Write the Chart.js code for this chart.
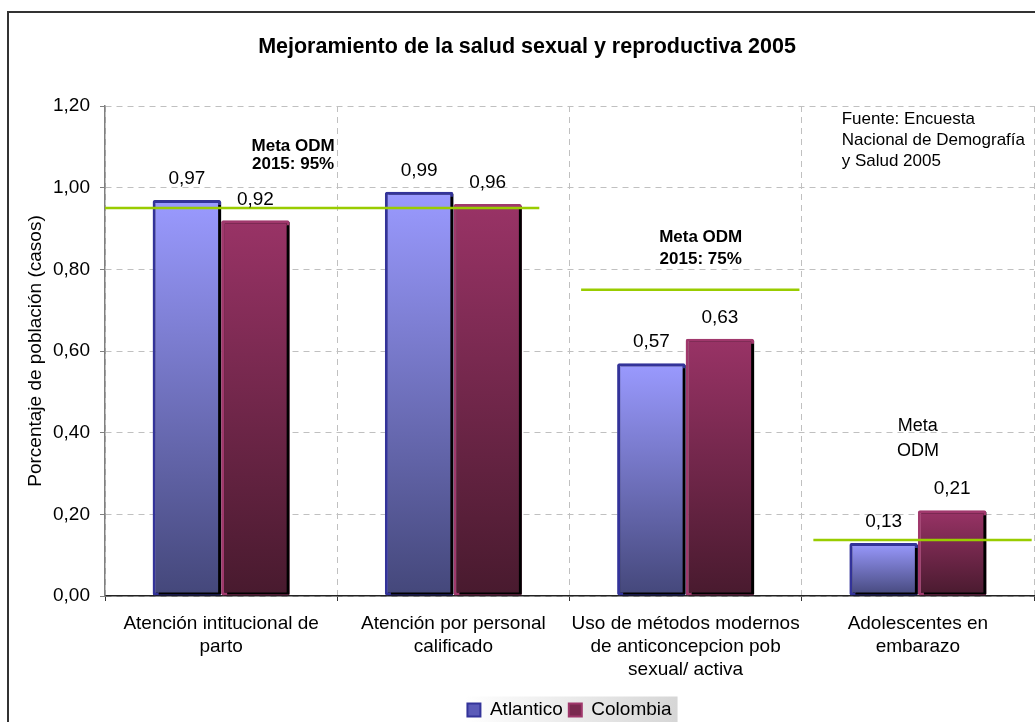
<!DOCTYPE html>
<html>
<head>
<meta charset="utf-8">
<script src="https://cdn.jsdelivr.net/npm/chart.js@4/dist/chart.umd.min.js"></script>
<style>
html,body{margin:0;padding:0;background:#fff;}
#wrap{width:1035px;height:722px;position:relative;}
</style>
</head>
<body>
<div id="wrap"><canvas id="c" width="1035" height="722"></canvas></div>
<script>
// ---- data ----
const categories = [
  ['Atención intitucional de', 'parto'],
  ['Atención por personal', 'calificado'],
  ['Uso de métodos modernos', 'de anticoncepcion pob', 'sexual/ activa'],
  ['Adolescentes en', 'embarazo']
];
const seriesNames = ['Atlantico', 'Colombia'];
const atlantico = [0.97, 0.99, 0.57, 0.13];
const colombia = [0.92, 0.96, 0.63, 0.21];
// Meta ODM target lines: value and span in category units
const metaValues = [0.95, 0.75, 0.137];
const metaSpans = [[-0.5, 1.37], [1.55, 2.49], [2.55, 3.49]];
const yTicks = [0, 0.2, 0.4, 0.6, 0.8, 1.0, 1.2];
const titleText = 'Mejoramiento de la salud sexual y reproductiva 2005';
const yTitle = 'Porcentaje de población (casos)';
const notes = [
  {lines: ['Meta ODM', '2015: 95%'], bold: true},
  {lines: ['Meta ODM', '2015: 75%'], bold: true},
  {lines: ['Meta', 'ODM'], bold: false},
  {lines: ['Fuente: Encuesta', 'Nacional de Demografía', 'y Salud 2005'], bold: false}
];

// ---- layout of notes (positions in axis units) ----
const notePos = [
  {x: 0.31, ys: [1.102, 1.056], align: 'center', size: 17},
  {x: 2.065, ys: [0.878, 0.824], align: 'center', size: 17},
  {x: 3.0, ys: [0.416, 0.355], align: 'center', size: 18},
  {x: 2.672, ys: [1.168, 1.116, 1.065], align: 'left', size: 17}
];

const FONT = 'Arial, "Liberation Sans", sans-serif';
const fmt = v => v.toFixed(2).replace('.', ',');

function barGrad(c, top, bottom) {
  const chart = c.chart;
  if (!chart.chartArea || c.type !== 'data') return top;
  const y = chart.scales.y;
  const y0 = y.getPixelForValue(c.raw), y1 = y.getPixelForValue(0);
  const g = chart.ctx.createLinearGradient(0, y0, 0, y1);
  g.addColorStop(0, top);
  g.addColorStop(1, bottom);
  return g;
}

const framePlugin = {
  id: 'frame',
  beforeDraw(chart) {
    const ctx = chart.ctx;
    ctx.save();
    ctx.fillStyle = '#fff';
    ctx.fillRect(0, 0, chart.width, chart.height);
    ctx.strokeStyle = '#333';
    ctx.lineWidth = 2;
    ctx.strokeRect(8, 12, chart.width + 20, chart.height + 20);
    const L = chart.legend;
    if (L && L.legendHitBoxes && L.legendHitBoxes.length) {
      const hb = L.legendHitBoxes;
      const x0 = hb[0].left - 3;
      const last = hb[hb.length - 1];
      const x1 = last.left + last.width + 6;
      const g = ctx.createLinearGradient(x0, 0, x1, 0);
      g.addColorStop(0, '#ffffff');
      g.addColorStop(1, '#d6d6d6');
      ctx.fillStyle = g;
      ctx.fillRect(x0, hb[0].top - 4, x1 - x0, chart.height);
    }
    ctx.restore();
  },
  afterLayout(chart) {
    const L = chart.legend, a = chart.chartArea;
    if (!L) return;
    const shift = (a.left + a.right) / 2 - (L.left + L.right) / 2;
    L.left += shift; L.right += shift;
  },
  beforeDatasetDraw(chart) {
    const ctx = chart.ctx;
    ctx.save();
    ctx.shadowColor = 'rgba(0,0,0,1)';
    ctx.shadowOffsetX = 3;
    ctx.shadowOffsetY = 2;
    ctx.shadowBlur = 0;
  },
  afterDatasetDraw(chart) {
    chart.ctx.restore();
  },
  afterDatasetsDraw(chart) {
    const ctx = chart.ctx;
    const xs = chart.scales.x, ys = chart.scales.y;
    ctx.save();
    // meta ODM lines
    ctx.strokeStyle = '#99cc00';
    ctx.lineWidth = 2.5;
    metaValues.forEach((v, i) => {
      const py = ys.getPixelForValue(v);
      ctx.beginPath();
      ctx.moveTo(xs.getPixelForValue(metaSpans[i][0]), py);
      ctx.lineTo(xs.getPixelForValue(metaSpans[i][1]), py);
      ctx.stroke();
    });
    // value labels
    ctx.fillStyle = '#000';
    ctx.textAlign = 'center';
    ctx.textBaseline = 'middle';
    ctx.font = '19px ' + FONT;
    [0, 1].forEach(di => {
      const meta = chart.getDatasetMeta(di);
      meta.data.forEach((el, i) => {
        const v = chart.data.datasets[di].data[i];
        ctx.fillText(fmt(v), el.x, el.y - 21);
      });
    });
    // notes
    notes.forEach((n, i) => {
      const p = notePos[i];
      ctx.font = (n.bold ? 'bold ' : '') + p.size + 'px ' + FONT;
      ctx.textAlign = p.align;
      const px = xs.getPixelForValue(p.x);
      n.lines.forEach((t, j) => ctx.fillText(t, px, ys.getPixelForValue(p.ys[j])));
    });
    ctx.restore();
  }
};

new Chart(document.getElementById('c'), {
  type: 'bar',
  data: {
    labels: categories,
    datasets: [
      {
        label: seriesNames[0],
        data: atlantico,
        backgroundColor: c => barGrad(c, '#9a9aff', '#44477a'),
        borderColor: '#333399',
        borderWidth: 3,
        borderSkipped: false,
        borderRadius: 2
      },
      {
        label: seriesNames[1],
        data: colombia,
        backgroundColor: c => barGrad(c, '#993366', '#481a2e'),
        borderColor: '#a0386c',
        borderWidth: 3,
        borderSkipped: false,
        borderRadius: 2
      }
    ]
  },
  options: {
    responsive: false,
    animation: false,
    devicePixelRatio: 1,
    datasets: {bar: {categoryPercentage: 0.59, barPercentage: 1.0}},
    layout: {padding: {left: 20, right: 1, top: 0, bottom: -7.5}},
    scales: {
      x: {
        type: 'category',
        offset: true,
        grid: {display: true, offset: true, color: '#c0c0c0', tickColor: '#333', tickLength: 5},
        border: {display: true, color: '#222', width: 1.5, dash: [6, 5]},
        ticks: {color: '#000', font: {family: FONT, size: 19, lineHeight: 1.21}, padding: 11, maxRotation: 0, autoSkip: false},
        afterFit: s => { s.height = 98.5; }
      },
      y: {
        min: 0, max: 1.2,
        afterBuildTicks: s => { s.ticks = yTicks.map(v => ({value: v})); },
        grid: {color: '#c0c0c0', tickColor: '#808080', tickLength: 5},
        border: {display: true, color: '#808080', width: 1.5, dash: [6, 5]},
        ticks: {color: '#000', font: {family: FONT, size: 19}, padding: 10, callback: v => fmt(v)},
        title: {display: true, text: yTitle, color: '#000', font: {family: FONT, size: 19}, padding: {top: 4, bottom: 4}},
        afterFit: s => { s.width = 85; }
      }
    },
    plugins: {
      title: {display: true, text: titleText, color: '#000', font: {family: FONT, size: 21.5, weight: 'bold'}, padding: {top: 34, bottom: 46.2}},
      tooltip: {enabled: false},
      legend: {
        position: 'bottom',
        labels: {
          color: '#000',
          font: {family: FONT, size: 19},
          boxWidth: 13, boxHeight: 13, padding: 6,
          generateLabels: () => [
            {text: seriesNames[0], fillStyle: '#5a5ab8', strokeStyle: '#333399', lineWidth: 2, datasetIndex: 0, hidden: false, fontColor: '#000'},
            {text: seriesNames[1], fillStyle: '#7a2a50', strokeStyle: '#a0386c', lineWidth: 2, datasetIndex: 1, hidden: false, fontColor: '#000'}
          ]
        }
      }
    }
  },
  plugins: [framePlugin]
});
</script>
</body>
</html>
